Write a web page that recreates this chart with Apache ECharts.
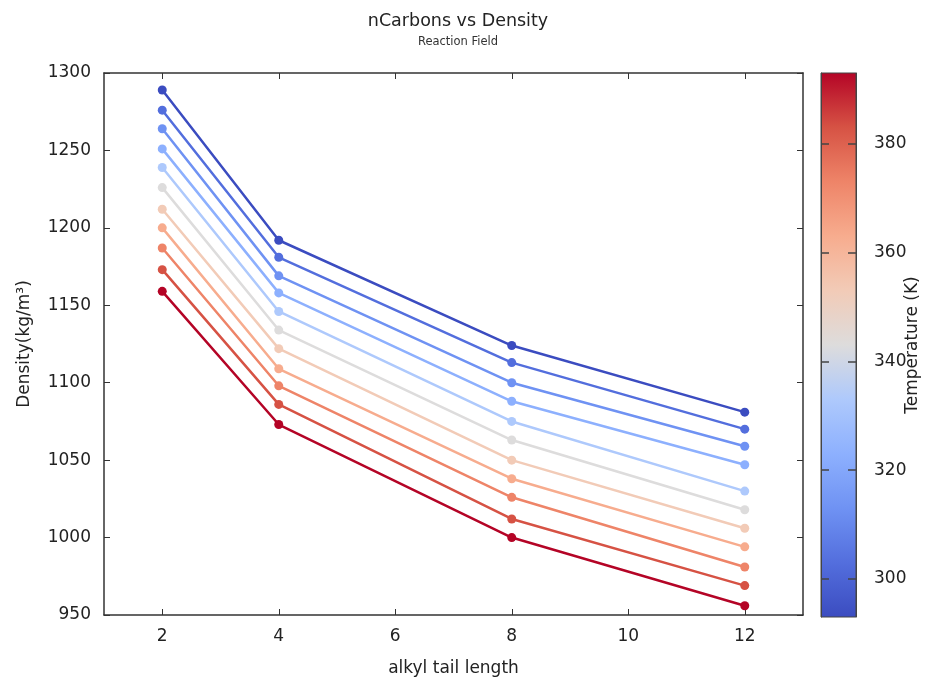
<!DOCTYPE html>
<html>
<head>
<meta charset="utf-8">
<script src="https://cdn.jsdelivr.net/npm/echarts@6/dist/echarts.min.js"></script>
<style>html,body{margin:0;padding:0;background:#fff}#c{width:928px;height:682px}</style>
</head>
<body>
<div id="c"></div>
<script>
// ---- data ----
var tailLengths = [2, 4, 8, 12];
var temperatures = [293, 303, 313, 323, 333, 343, 353, 363, 373, 383, 393];
var d293 = [1289, 1192, 1124, 1081];
var d303 = [1276, 1181, 1113, 1070];
var d313 = [1264, 1169, 1100, 1059];
var d323 = [1251, 1158, 1088, 1047];
var d333 = [1239, 1146, 1075, 1030];
var d343 = [1226, 1134, 1063, 1018];
var d353 = [1212, 1122, 1050, 1006];
var d363 = [1200, 1109, 1038, 994];
var d373 = [1187, 1098, 1026, 981];
var d383 = [1173, 1086, 1012, 969];
var d393 = [1159, 1073, 1000, 956];
var densities = [d293, d303, d313, d323, d333, d343, d353, d363, d373, d383, d393];
var xTickValues = [2, 4, 6, 8, 10, 12];
var tempTickValues = [300, 320, 340, 360, 380];

// ---- style ----
var coolwarm = ['#3b4cc0', '#536edd', '#6f92f3', '#8db0fe', '#aec9fc', '#dddcdc',
                '#f2cbb7', '#f7ac8e', '#ee8468', '#d65244', '#b40426'];
var FONT = 'DejaVu Sans';
var AX = '#333';
var TXT = '#222';
var FS = 17;
var CB = { left: 821, top: 73, width: 35, height: 544 };

var series = temperatures.map(function (t, i) {
  return {
    name: t + ' K',
    type: 'line',
    xAxisIndex: 0, yAxisIndex: 0,
    data: tailLengths.map(function (x, j) { return [x, densities[i][j]]; }),
    symbol: 'circle',
    symbolSize: 9,
    lineStyle: { width: 2.5, color: coolwarm[i] },
    itemStyle: { color: coolwarm[i] },
    emphasis: { disabled: true },
    z: 3
  };
});
// empty series so the colour-bar grid has a coordinate system
series.push({ type: 'scatter', xAxisIndex: 2, yAxisIndex: 2, data: [] });

var gradStops = coolwarm.map(function (c, i) { return { offset: i / (coolwarm.length - 1), color: c }; });

var chart = echarts.init(document.getElementById('c'), null, { renderer: 'canvas' });
chart.setOption({
  animation: false,
  backgroundColor: '#fff',
  textStyle: { fontFamily: FONT },
  title: {
    text: 'nCarbons vs Density',
    subtext: 'Reaction Field',
    left: 453, top: 7, textAlign: 'center', itemGap: 6,
    textStyle: { fontFamily: FONT, fontSize: 17.5, fontWeight: 'normal', color: TXT },
    subtextStyle: { fontFamily: FONT, fontSize: 11.5, color: '#333' }
  },
  graphic: [{
    type: 'rect', z: -10, silent: true,
    shape: { x: CB.left, y: CB.top, width: CB.width, height: CB.height },
    style: { fill: new echarts.graphic.LinearGradient(0, 1, 0, 0, gradStops), stroke: '#444', lineWidth: 1 }
  }],
  grid: [
    { left: 104, right: 125, top: 73, bottom: 65, containLabel: false },
    { left: CB.left, width: CB.width, top: CB.top, height: CB.height, containLabel: false, show: false }
  ],
  xAxis: [
    {
      type: 'value', gridIndex: 0, min: 1, max: 13, position: 'bottom',
      name: 'alkyl tail length', nameLocation: 'middle', nameGap: 45, nameMoveOverlap: false,
      nameTextStyle: { fontFamily: FONT, fontSize: FS, color: TXT },
      axisLine: { show: true, onZero: false, lineStyle: { color: AX, width: 1.5 } },
      axisTick: { show: true, inside: true, length: 6, customValues: xTickValues, lineStyle: { color: AX } },
      axisLabel: { show: true, customValues: xTickValues, margin: 13, fontFamily: FONT, fontSize: FS, color: TXT },
      splitLine: { show: false }
    },
    {
      type: 'value', gridIndex: 0, min: 1, max: 13, position: 'top',
      axisLine: { show: true, onZero: false, lineStyle: { color: AX, width: 1.5 } },
      axisTick: { show: true, inside: true, length: 6, customValues: xTickValues, lineStyle: { color: AX } },
      axisLabel: { show: false },
      splitLine: { show: false }
    },
    {
      type: 'value', gridIndex: 1, min: 0, max: 1, show: false
    }
  ],
  yAxis: [
    {
      type: 'value', gridIndex: 0, min: 950, max: 1300, interval: 50, position: 'left',
      name: 'Density(kg/m³)', nameLocation: 'middle', nameGap: 71, nameRotate: 90, nameMoveOverlap: false,
      nameTextStyle: { fontFamily: FONT, fontSize: FS, color: TXT },
      axisLine: { show: true, onZero: false, lineStyle: { color: AX, width: 1.5 } },
      axisTick: { show: true, inside: true, length: 6, lineStyle: { color: AX } },
      axisLabel: { show: true, margin: 13, fontFamily: FONT, fontSize: FS, color: TXT,
                   formatter: function (v) { return String(v); } },
      splitLine: { show: false }
    },
    {
      type: 'value', gridIndex: 0, min: 950, max: 1300, interval: 50, position: 'right',
      axisLine: { show: true, onZero: false, lineStyle: { color: AX, width: 1.5 } },
      axisTick: { show: true, inside: true, length: 6, lineStyle: { color: AX } },
      axisLabel: { show: false },
      splitLine: { show: false }
    },
    {
      type: 'value', gridIndex: 1, min: 293, max: 393, position: 'right',
      name: 'Temperature (K)', nameLocation: 'middle', nameGap: 48, nameRotate: 90, nameMoveOverlap: false,
      nameTextStyle: { fontFamily: FONT, fontSize: FS, color: TXT },
      axisLine: { show: true, onZero: false, lineStyle: { color: '#444', width: 1 } },
      axisTick: { show: true, inside: true, length: 8, customValues: tempTickValues, lineStyle: { color: '#444', width: 1.5 } },
      axisLabel: { show: true, customValues: tempTickValues, margin: 18, fontFamily: FONT, fontSize: FS, color: TXT },
      splitLine: { show: false }
    },
    {
      type: 'value', gridIndex: 1, min: 293, max: 393, position: 'left',
      axisLine: { show: true, onZero: false, lineStyle: { color: '#444', width: 1 } },
      axisTick: { show: true, inside: true, length: 8, customValues: tempTickValues, lineStyle: { color: '#444', width: 1.5 } },
      axisLabel: { show: false },
      splitLine: { show: false }
    }
  ],
  series: series
});
</script>
</body>
</html>
